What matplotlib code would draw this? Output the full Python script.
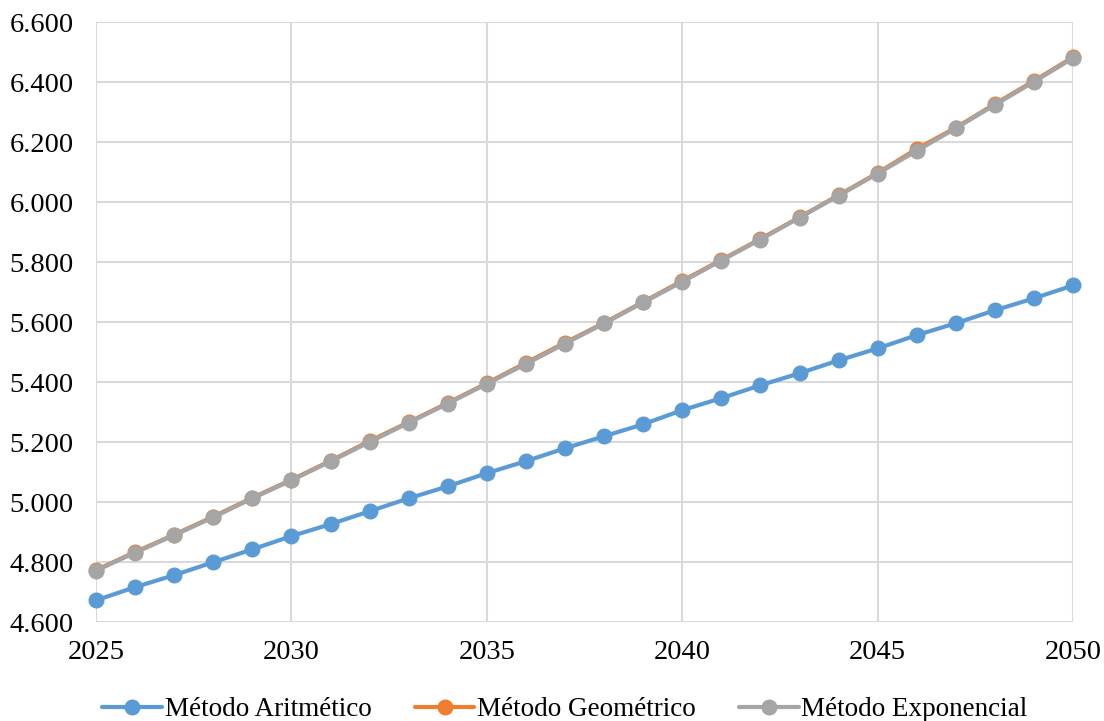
import numpy as np
import matplotlib.pyplot as plt
from matplotlib.ticker import FuncFormatter

years = list(range(2025, 2051))

aritmetico = [4673, 4717, 4757, 4800, 4843, 4887, 4927, 4970, 5013, 5053,
              5097, 5137, 5180, 5220, 5260, 5307, 5347, 5390, 5430, 5473,
              5513, 5557, 5597, 5640, 5680, 5723]
geometrico = [4774, 4834, 4892, 4952, 5015, 5075, 5138, 5204, 5267, 5331,
              5397, 5465, 5532, 5598, 5668, 5738, 5808, 5878, 5950, 6024,
              6098, 6178, 6249, 6328, 6405, 6484]
exponencial = [4772, 4832, 4890, 4950, 5013, 5073, 5136, 5201, 5265, 5329,
               5395, 5461, 5529, 5596, 5666, 5735, 5806, 5876, 5949, 6022,
               6096, 6172, 6247, 6325, 6402, 6481]

series = [
    ("Método Aritmético", aritmetico, "#5B9BD5"),
    ("Método Geométrico", geometrico, "#ED7D31"),
    ("Método Exponencial", exponencial, "#A5A5A5"),
]

plt.rcParams['font.family'] = ['Liberation Serif', 'DejaVu Serif']

fig = plt.figure(figsize=(11.04, 7.21), dpi=100)
ax = fig.add_axes([0.087, 0.137, 0.885, 0.832])

for name, vals, color in series:
    ax.plot(years, vals, color=color, lw=3, marker='o', ms=10.5,
            label=name, solid_capstyle='round', clip_on=False)

ax.set_xlim(2025, 2050)
ax.set_ylim(4600, 6600)
ax.set_xticks(range(2025, 2051, 5))
ax.set_yticks(range(4600, 6601, 200))
ax.yaxis.set_major_formatter(FuncFormatter(lambda v, p: f"{int(v):,}".replace(",", ".")))

ax.grid(True, color="#D9D9D9", lw=1.5)
ax.set_axisbelow(True)
for s in ax.spines.values():
    s.set_visible(False)
ax.tick_params(length=0, labelsize=20.5, colors="black")
ax.tick_params(axis='x', pad=13)
ax.tick_params(axis='y', pad=16)

ax.legend(loc='upper center', bbox_to_anchor=(0.48, -0.107), ncol=3, frameon=False,
          fontsize=19.5, handlelength=2.2, columnspacing=1.6, handletextpad=0.1,
          borderaxespad=0)

fig.savefig("out.png", dpi=100)
